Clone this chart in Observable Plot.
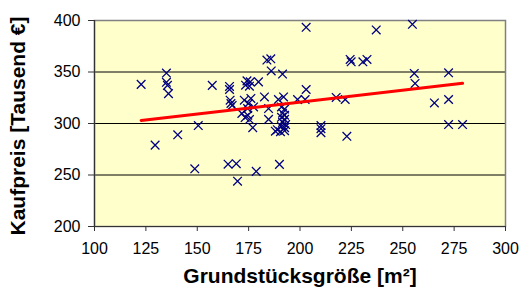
<!DOCTYPE html>
<html><head><meta charset="utf-8">
<script src="https://cdn.jsdelivr.net/npm/d3@7"></script>
<script src="https://cdn.jsdelivr.net/npm/@observablehq/plot@0.6"></script>
<style>body{margin:0;background:#fff;}</style>
</head><body><div id="chart"></div>
<script>
// Grundstücksgröße [m²]
const area = [122.7,135,135,135.5,136,129.5,140.5,150.5,148.8,157.3,
  165.7,165.7,166,166.4,167,165,169,169.6,172.9,176.1,
  174.9,177.4,174.5,171.7,173.3,175.4,174.6,174.2,175.8,173.5,
  175.4,179.8,177,178.7,182.7,184.7,184.7,183.9,185.8,186,
  191.5,189.5,192,190,191,192.5,191.5,192.5,191,192.5,
  191.5,193,191,192.5,189,190.5,192.5,188,198.8,203,
  202.5,203,210.2,210.2,210.2,217.6,222,222.8,224.4,224.9,
  230.6,232.6,237.1,254.7,255.6,256,272.3,265.4,272.3,272.3,279.1];
// Kaufpreis [Tausend €]
const price = [338,349,340,337,329,279,289,298,256,337,
  336,333,322.6,319.4,317.5,260.5,261,244,322.6,324.3,
  319.4,316.1,314.5,309.7,305.8,303.8,308,341.4,340.4,337.2,
  336.2,340.4,296,253.5,325.8,314.5,304,361.6,362.8,351,
  348,323.3,325.8,260.3,316,314,310,308,306,304,
  301,299,297,296,294,292,293,292.5,323.3,333,
  323.3,393.4,298,295,291,325.3,323.3,287.6,362.2,359.9,
  359.9,362.2,390.8,396.3,348.6,338.9,349.2,320,323.3,299,299];
// linear trend line endpoints
const trendX = [122.7, 279.1];
const trendY = [303, 339];
const xTicks = [100,125,150,175,200,225,250,275,300];
const yTicks = [200,250,300,350,400];
const gridY = [250,300,350];
const xTitle = "Grundstücksgröße [m²]";
const yTitle = "Kaufpreis [Tausend €]";

const points = area.map((a,i)=>({a, p: price[i]}));
const trend = trendX.map((a,i)=>({a, p: trendY[i]}));

const chart = Plot.plot({
  width: 529, height: 296,
  marginLeft: 94, marginRight: 24, marginTop: 20, marginBottom: 70,
  style: {fontFamily: "Arial, 'Liberation Sans', sans-serif", fontSize: "16px", color: "#000", background: "#fff"},
  x: {domain: [100, 300]},
  y: {domain: [200, 400]},
  marks: [
    Plot.frame({fill: "#FFFFCC"}),
    Plot.ruleY(gridY, {stroke: "#000", strokeWidth: 1}),
    Plot.frame({stroke: "#808080", strokeWidth: 1.5}),
    Plot.ruleX([100], {stroke: "#333", strokeWidth: 1.2}),
    Plot.ruleY([200], {stroke: "#333", strokeWidth: 1.2}),
    Plot.axisX({ticks: xTicks, tickSize: 5, tickPadding: 11, fontSize: 16, label: null, stroke: "#333"}),
    Plot.axisY({ticks: yTicks, tickSize: 6, tickPadding: 8, fontSize: 16, label: null, stroke: "#333"}),
    Plot.dot(points, {x: "a", y: "p", symbol: "times", r: 4, stroke: "#000080", strokeWidth: 1.3}),
    Plot.line(trend, {x: "a", y: "p", stroke: "#FF0000", strokeWidth: 3}),
    Plot.text([xTitle], {frameAnchor: "bottom", dy: 56, fontSize: 21, fontWeight: "bold", fill: "#000"}),
    Plot.text([yTitle], {frameAnchor: "bottom-left", rotate: -90, textAnchor: "start", dx: -70, dy: 9, fontSize: 21, fontWeight: "bold", fill: "#000"})
  ]
});
document.getElementById("chart").appendChild(chart);
</script>
</body></html>
